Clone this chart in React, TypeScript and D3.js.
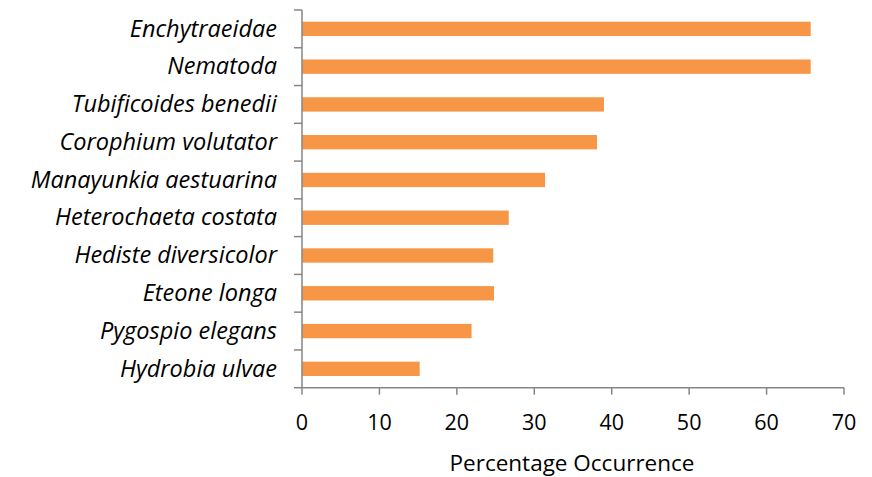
import React from "react";
import * as d3 from "d3";

const categories = [
  "Enchytraeidae",
  "Nematoda",
  "Tubificoides benedii",
  "Corophium volutator",
  "Manayunkia aestuarina",
  "Heterochaeta costata",
  "Hediste diversicolor",
  "Eteone longa",
  "Pygospio elegans",
  "Hydrobia ulvae",
];
const values = [65.7, 65.7, 39.0, 38.1, 31.4, 26.7, 24.7, 24.8, 21.9, 15.2];
const xTicks = [0, 10, 20, 30, 40, 50, 60, 70];
const xTitle = "Percentage Occurrence";

const W = 872;
const H = 477;
const left = 302;
const right = 844;
const top = 10;
const bottom = 387.7;
const FONT = "'Open Sans', sans-serif";
const AXIS = "#868686";

export default function App() {
  const x = d3.scaleLinear().domain([0, 70]).range([left, right]);
  const y = d3.scaleBand<string>().domain(categories).range([top, bottom]).paddingInner(0.62).paddingOuter(0.31);
  const step = (bottom - top) / categories.length;
  const boundaries = d3.range(categories.length + 1).map((i) => top + i * step);
  return (
    <svg width={W} height={H} style={{ position: "absolute", left: 0, top: 0, background: "#fff" }}>
      {categories.map((c, i) => (
        <rect key={c} x={x(0)} y={y(c)} width={x(values[i]) - x(0)} height={y.bandwidth()} fill="#F79646" />
      ))}
      <line x1={left} x2={left} y1={top} y2={bottom} stroke={AXIS} strokeWidth={1.5} />
      {boundaries.map((b, i) => (
        <line key={i} x1={left - 8} x2={left} y1={b} y2={b} stroke={AXIS} strokeWidth={1.5} />
      ))}
      <line x1={left} x2={right} y1={bottom} y2={bottom} stroke={AXIS} strokeWidth={1.5} />
      {xTicks.map((t) => (
        <g key={t}>
          <line x1={x(t)} x2={x(t)} y1={bottom} y2={bottom + 7} stroke={AXIS} strokeWidth={1.5} />
          <text x={x(t)} y={430} textAnchor="middle" fontFamily={FONT} fontSize={21.5} fill="#000">
            {t}
          </text>
        </g>
      ))}
      {categories.map((c) => (
        <text
          key={c}
          x={277}
          y={(y(c) ?? 0) + y.bandwidth() / 2}
          dy="0.33em"
          textAnchor="end"
          fontFamily={FONT}
          fontStyle="italic"
          fontSize={23.5}
          fill="#000"
        >
          {c}
        </text>
      ))}
      <text x={572} y={471} textAnchor="middle" fontFamily={FONT} fontSize={22.5} fill="#000">
        {xTitle}
      </text>
    </svg>
  );
}
